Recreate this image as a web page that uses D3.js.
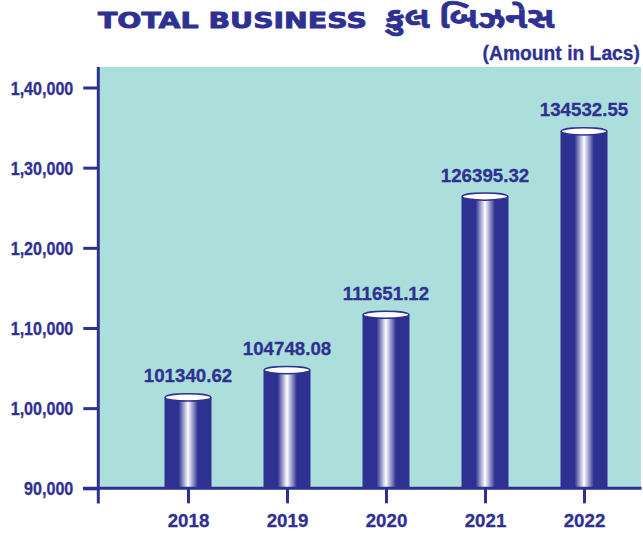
<!DOCTYPE html>
<html lang="en">
<head>
<meta charset="utf-8">
<title>Total Business</title>
<script src="https://d3js.org/d3.v7.min.js"></script>
<style>
  body { margin: 0; background: #fff; }
  text { font-family: "Liberation Sans", Arial, sans-serif; font-weight: bold; fill: #2e3192; stroke: #2e3192; stroke-width: 0.3px; }
</style>
</head>
<body>
<div id="chart"></div>
<script type="text/javascript">
	// data
	var years = ['2018', '2019', '2020', '2021', '2022'],
		totals = [101340.62, 104748.08, 111651.12, 126395.32, 134532.55],
		yTicks = [90000, 100000, 110000, 120000, 130000, 140000],
		yTickLabels = ['90,000', '1,00,000', '1,10,000', '1,20,000', '1,30,000', '1,40,000'];

	var W = 643, H = 534,
		blue = '#2e3192',
		teal = '#acdedc';

	var svg = d3.select('#chart').append('svg')
		.attr('width', W)
		.attr('height', H);

	// gradient for the cylinders
	var grad = svg.append('defs').append('linearGradient')
		.attr('id', 'cyl')
		.attr('x1', '0%').attr('x2', '100%')
		.attr('y1', '0%').attr('y2', '0%');
	[[0, blue], [0.3, blue], [0.5, '#ffffff'], [0.71, blue], [1, blue]].forEach(function(s){
		grad.append('stop').attr('offset', s[0]).attr('stop-color', s[1]);
	});

	var x = d3.scalePoint().domain(years).range([188, 584]),
		y = d3.scaleLinear().domain([90000, 140000]).range([488.3, 87.5]),
		barW = 47;

	// plot background
	svg.append('rect')
		.attr('x', 99).attr('y', 67)
		.attr('width', 542).attr('height', y(90000) - 67)
		.attr('fill', teal);

	// titles
	svg.append('text')
		.attr('transform', 'translate(98,27.5) scale(1.29,1)')
		.style('font-family', '"DejaVu Sans", sans-serif')
		.style('font-size', '22px')
		.style('stroke-width', '0.9px')
		.text('TOTAL BUSINESS');
	svg.append('text')
		.attr('transform', 'translate(385,28) scale(1.2,1)')
		.style('font-family', '"Noto Sans Gujarati", "Noto Sans", sans-serif')
		.style('font-size', '30px')
		.style('stroke-width', '0.6px')
		.text('કુલ બિઝનેસ');
	svg.append('text')
		.attr('x', 640).attr('y', 60)
		.attr('text-anchor', 'end')
		.style('font-size', '19.3px')
		.text('(Amount in Lacs)');

	// bars
	var bars = svg.append('g');
	years.forEach(function(yr, i){
		var cx = x(yr), top = y(totals[i]);
		bars.append('rect')
			.attr('x', cx - barW / 2).attr('y', top)
			.attr('width', barW).attr('height', y(90000) - top)
			.attr('fill', 'url(#cyl)');
		bars.append('ellipse')
			.attr('cx', cx).attr('cy', top)
			.attr('rx', barW / 2 - 0.7).attr('ry', 3.6)
			.attr('fill', '#fff')
			.attr('stroke', blue)
			.attr('stroke-width', 1.5);
		bars.append('text')
			.attr('x', cx).attr('y', top - 15)
			.attr('text-anchor', 'middle')
			.style('font-size', '18.7px')
			.text(totals[i].toFixed(2));
	});

	// y axis
	var yAxis = svg.append('g')
		.attr('transform', 'translate(98.3,0)')
		.call(d3.axisLeft(y).tickValues(yTicks).tickSize(15).tickSizeOuter(0)
			.tickFormat(function(d, i){ return yTickLabels[i]; }));
	yAxis.select('.domain').remove();
	yAxis.selectAll('line').attr('stroke', blue).attr('stroke-width', 3);
	yAxis.selectAll('text')
		.attr('x', null).attr('dy', null)
		.attr('transform', 'translate(-25,6.6) scale(0.87,1)')
		.attr('fill', blue)
		.style('font-size', '18.5px')
		.style('font-family', '"Liberation Sans", Arial, sans-serif');

	// x axis
	var xAxis = svg.append('g')
		.attr('transform', 'translate(0,' + y(90000) + ')')
		.call(d3.axisBottom(x).tickSize(15).tickSizeOuter(0));
	xAxis.select('.domain').remove();
	xAxis.selectAll('line').attr('stroke', blue).attr('stroke-width', 3);
	xAxis.selectAll('text')
		.attr('y', 38.5).attr('dy', null)
		.attr('fill', blue)
		.style('font-size', '18.7px')
		.style('font-family', '"Liberation Sans", Arial, sans-serif');

	// axis lines
	svg.append('line')
		.attr('x1', 98.3).attr('x2', 98.3)
		.attr('y1', 67).attr('y2', 503.5)
		.attr('stroke', blue).attr('stroke-width', 3);
	svg.append('line')
		.attr('x1', 83).attr('x2', 641.5)
		.attr('y1', y(90000)).attr('y2', y(90000))
		.attr('stroke', blue).attr('stroke-width', 3);
</script>
</body>
</html>
